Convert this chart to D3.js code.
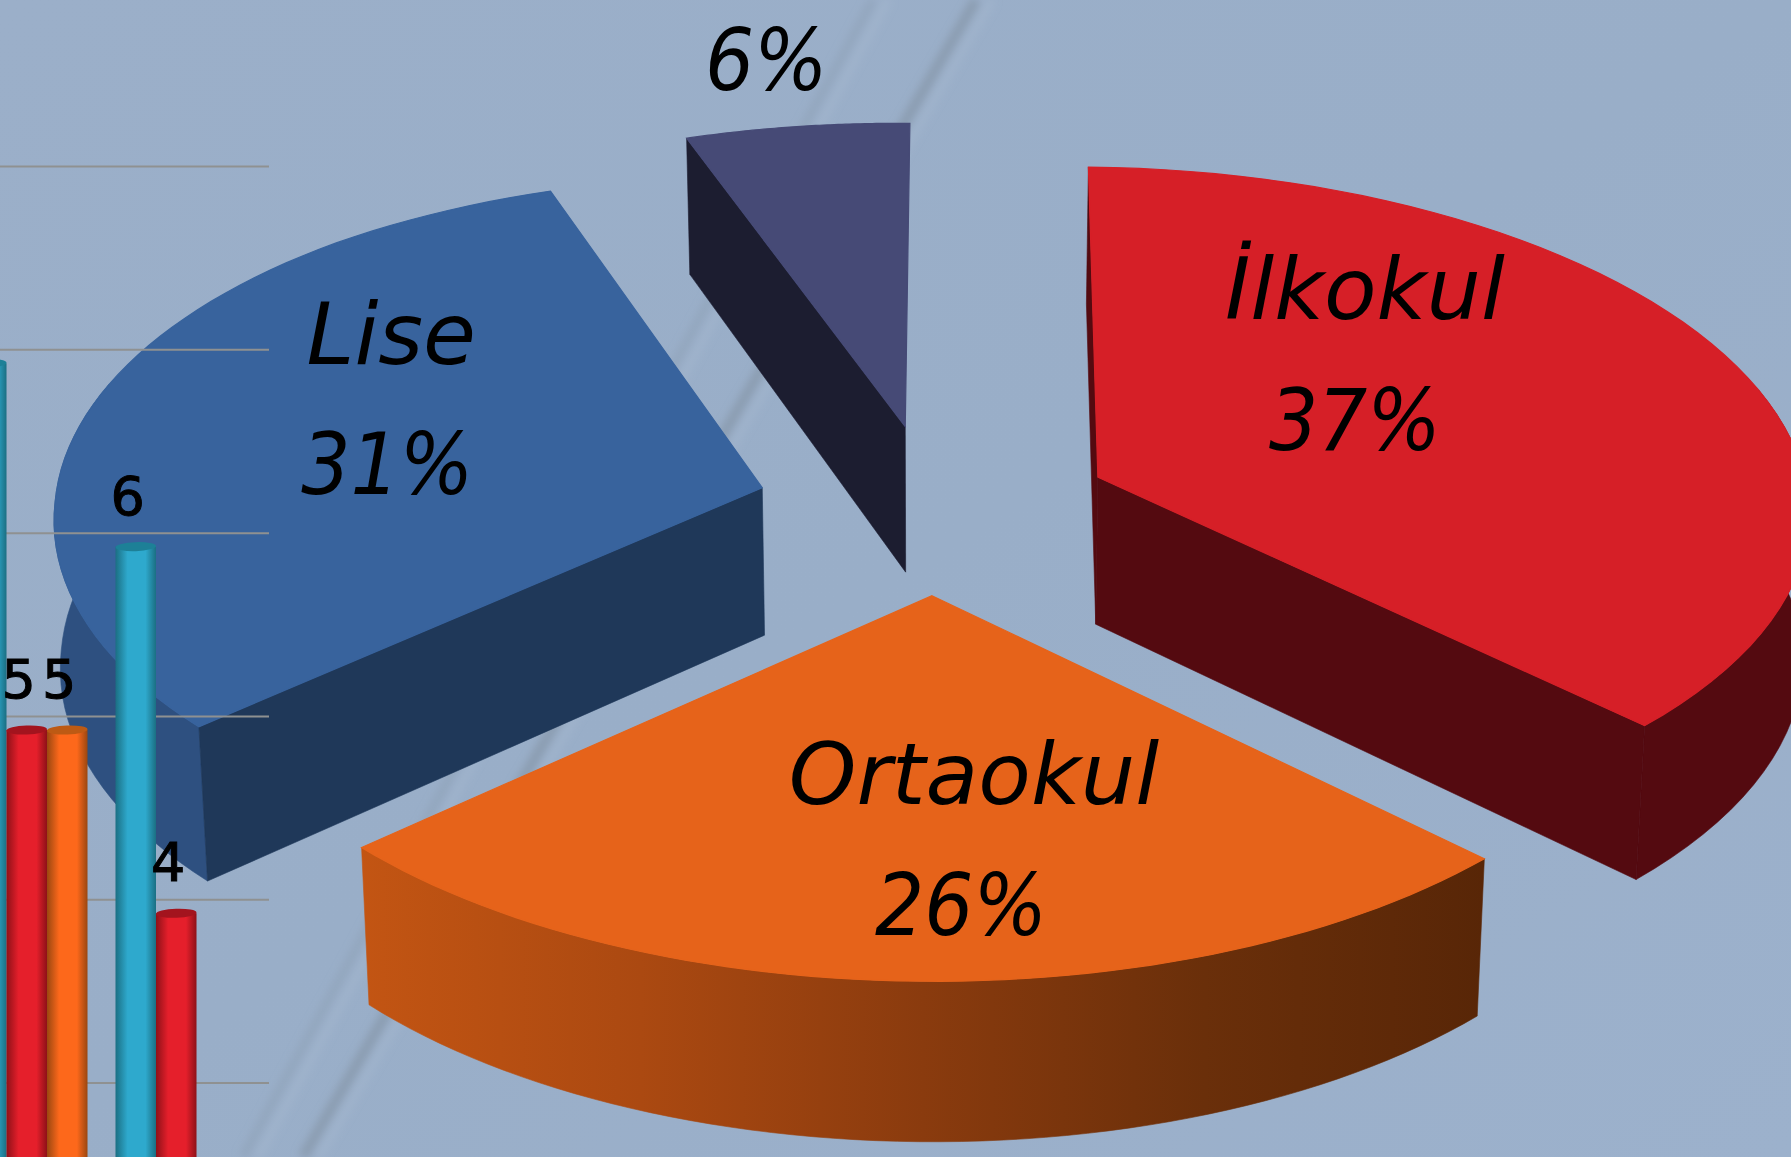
<!DOCTYPE html>
<html><head><meta charset="utf-8">
<script src="https://cdn.jsdelivr.net/npm/d3@7"></script>
<style>html,body{margin:0;padding:0;background:#9aaec8;overflow:hidden}svg{display:block}</style>
</head><body><svg id="c" width="1791" height="1157"></svg>
<script>
// ---- data ----
const sliceNames = ["İlkokul", "Ortaokul", "Lise", ""];
const sliceValues = [20, 14, 17, 3];
const barGroups = ["A", "B"];
const barSeries = ["teal", "red", "orange"];
const tealValues = [7, 6];
const redValues = [5, 4];
const orangeValues = [5, null];
const gridValues = [3, 4, 5, 6, 7, 8];

// ---- styles ----
const topColors = ["#d61f27", "#e6631a", "#38639d", "#464a76"];
const wallColors = ["#540a10", "#5b2708", "#1f3859", "#1c1d30"];
const rimColors = ["#540a10", "url(#orangeRim)", "#2e5080", "#1c1d30"];
const barColors = {teal:["#1b6f83","#2ea9cd","#1d8097"], red:["#8e1118","#e51f2b","#a3141e"], orange:["#9a4710","#fd681b","#bd5a14"]};
const W = 1791, H = 1157;
const cx = 935, cy = 509, A = 714, B = 340, p = 0.08, explode = 0.25;

const svg = d3.select("#c");
const defs = svg.append("defs");

// background
const bg = defs.append("linearGradient").attr("id","bg").attr("x1",0).attr("y1",0).attr("x2",1).attr("y2",1);
bg.append("stop").attr("offset",0).attr("stop-color","#9bafc9");
bg.append("stop").attr("offset",0.5).attr("stop-color","#99aec8");
bg.append("stop").attr("offset",1).attr("stop-color","#9cb1cc");
svg.append("rect").attr("width",W).attr("height",H).attr("fill","url(#bg)");
defs.append("filter").attr("id","blur").attr("x","-20%").attr("y","-20%").attr("width","140%").attr("height","140%")
  .append("feGaussianBlur").attr("stdDeviation",4);
const streaks = svg.append("g").attr("filter","url(#blur)").attr("fill","none");
[[873,0,243,1157,"#8c9fb3",8,0.55],[888,0,258,1157,"#a9bbd2",6,0.5],
 [976,0,303,1157,"#818f9f",10,0.6],[992,0,319,1157,"#aabbd1",6,0.5]].forEach(s=>{
  streaks.append("line").attr("x1",s[0]).attr("y1",s[1]).attr("x2",s[2]).attr("y2",s[3])
    .attr("stroke",s[4]).attr("stroke-width",s[5]).attr("opacity",s[6]);
});

// orange rim gradient
const og = defs.append("linearGradient").attr("id","orangeRim").attr("gradientUnits","userSpaceOnUse")
  .attr("x1",359).attr("x2",1486).attr("y1",0).attr("y2",0);
[[0,"#c35513"],[0.25,"#ab4911"],[0.5,"#8a3b0e"],[0.75,"#6a2f0a"],[1,"#582607"]].forEach(s=>
  og.append("stop").attr("offset",s[0]).attr("stop-color",s[1]));

// ---- 3D pie projection built on d3.pie ----
const arcs = d3.pie().sort(null)(sliceValues);
const total = d3.sum(sliceValues);
const pct = d3.format(".0%");
const line = d3.line();

function planePoint(X, Y){
  const w = 1 - p * Y;
  const Xc = X < 0 ? X + 0.028 * Math.max(0, -X - 0.9) : X;
  return {x: cx + A * Xc / w, y: cy + B * Y / w};
}
function topPoint(X, Y){
  const t = planePoint(X, Y);
  const dy = t.y - cy, dx = t.x - cx;
  return {x: t.x - (dy > 0 ? 0.035 : 0.008) * dy, y: t.y + 0.01 * dx};
}
function basePoint(X, Y){
  const t = topPoint(X, Y);
  const shrink = 0.987 + 0.006 * Math.min(1, Math.max(0, Math.abs(X) - 0.9) / 0.34);
  return [cx + (t.x - cx) * shrink, t.y + 148 + 10 * Y];
}
const xy = t => [t.x, t.y];

const pieG = svg.append("g");
const apexes = [];
arcs.forEach((a, i) => {
  const mid = (a.startAngle + a.endAngle) / 2;
  const ox = explode * Math.sin(mid), oy = -explode * Math.cos(mid);
  const rim = d3.range(0, 61).map(k => {
    const t = a.startAngle + (a.endAngle - a.startAngle) * k / 60;
    return {q: [ox + Math.sin(t), oy - Math.cos(t)], facing: Math.cos(t) < 0.3};
  });
  const apex = [ox, oy];
  const apexTop = topPoint(apex[0], apex[1]);
  apexes.push(apexTop);
  const topFace = [xy(apexTop), ...rim.map(r => xy(topPoint(r.q[0], r.q[1])))];

  // a radial wall shows when its outward normal turns toward the viewer
  const wall = (q, t, side) => {
    const nx = side * Math.cos(t), nY = side * Math.sin(t);
    const midX = (apex[0] + q[0]) / 2;
    return {
      pts: [xy(apexTop), xy(topPoint(q[0], q[1])), basePoint(q[0], q[1]), basePoint(apex[0], apex[1])],
      front: 3 * nY - nx * midX > 0.1
    };
  };
  const walls = [wall(rim[0].q, a.startAngle, -1), wall(rim[60].q, a.endAngle, 1)];
  const g = pieG.append("g");
  const visibleRim = rim.filter(r => r.facing);
  if (visibleRim.length > 1) {
    const rt = visibleRim.map(r => xy(topPoint(r.q[0], r.q[1])));
    const rb = visibleRim.map(r => basePoint(r.q[0], r.q[1]));
    g.append("path").attr("d", line([...rt, ...rb.reverse()]) + "Z")
      .attr("fill", rimColors[i]).attr("stroke", rimColors[i]).attr("stroke-width", 0.6);
  }
  walls.filter(w => w.front).forEach(w => g.append("path").attr("d", line(w.pts) + "Z")
    .attr("fill", wallColors[i]).attr("stroke", wallColors[i]).attr("stroke-width", 0.6));
  g.append("path").attr("d", line(topFace) + "Z").attr("fill", topColors[i])
    .attr("stroke", topColors[i]).attr("stroke-width", 1.2);
});

// ---- slice labels, offset from each slice's projected apex ----
const labelOffsets = [
  {name:[267,-158], val:[257,-27]},
  {name:[42,208],   val:[29,339]},
  {name:[-371,-124],val:[-375,6]},
  {name:[-142,-467],val:[-139,-337]}
];
const labels = svg.append("g").attr("font-family","'DejaVu Sans'").attr("font-style","italic")
  .attr("font-size",86).attr("text-anchor","middle").attr("fill","#000");
arcs.forEach((a, i) => {
  const o = labelOffsets[i], ap = apexes[i];
  if (sliceNames[i]) labels.append("text").attr("x",ap.x+o.name[0]).attr("y",ap.y+o.name[1]).text(sliceNames[i]);
  labels.append("text").attr("x",ap.x+o.val[0]).attr("y",ap.y+o.val[1])
    .attr("font-family","'DejaVu Sans Condensed','DejaVu Sans'").style("font-stretch","condensed").text(pct(a.value/total));
});

// ---- cylinder bars in front ----
const y = d3.scaleLinear().domain([3, 8]).range([1082.6, 166]);
const gx = d3.scaleBand().domain(barGroups).range([-34, 237]).paddingInner(28/149.5).paddingOuter(0);
const sx = d3.scaleBand().domain(barSeries).range([0, gx.bandwidth()]);

const gridG = svg.append("g").call(d3.axisRight(y).tickValues(gridValues).tickSize(269).tickFormat(""));
gridG.select(".domain").remove();
gridG.selectAll("line").attr("stroke","#8f9191").attr("stroke-width",2);

barSeries.forEach(s => {
  const c = barColors[s];
  const g = defs.append("linearGradient").attr("id","cyl-"+s).attr("x1",0).attr("x2",1).attr("y1",0).attr("y2",0);
  [[0,c[0]],[0.3,c[1]],[0.74,c[1]],[1,c[0]]].forEach(t=>
    g.append("stop").attr("offset",t[0]).attr("stop-color",t[1]));
});
const seriesValues = {teal:tealValues, red:redValues, orange:orangeValues};
const capDrop = 14;
const barsG = svg.append("g");
const rows = barSeries.flatMap(s => barGroups.map((gr,i)=>({s, gr, v:seriesValues[s][i]}))).filter(d=>d.v!=null);
rows.sort((a,b)=>(gx(a.gr)+sx(a.s))-(gx(b.gr)+sx(b.s)));
rows.forEach(d => {
  const x0 = gx(d.gr) + sx(d.s), w = sx.bandwidth(), top = y(d.v) + capDrop, mx = x0 + w/2;
  barsG.append("rect").attr("x",x0).attr("y",top).attr("width",w).attr("height",y(0)-top).attr("fill","url(#cyl-"+d.s+")");
  barsG.append("ellipse").attr("cx",mx).attr("cy",top).attr("rx",w/2).attr("ry",4.5)
    .attr("transform",`rotate(-2 ${mx} ${top})`).attr("fill",barColors[d.s][2]);
  if (mx > 0) barsG.append("text").attr("x",mx-8).attr("y",top-32).attr("text-anchor","middle")
    .attr("font-family","'DejaVu Sans'").attr("font-size",54).attr("fill","#000")
    .attr("stroke","#000").attr("stroke-width",1).text(d.v);
});
</script></body></html>
